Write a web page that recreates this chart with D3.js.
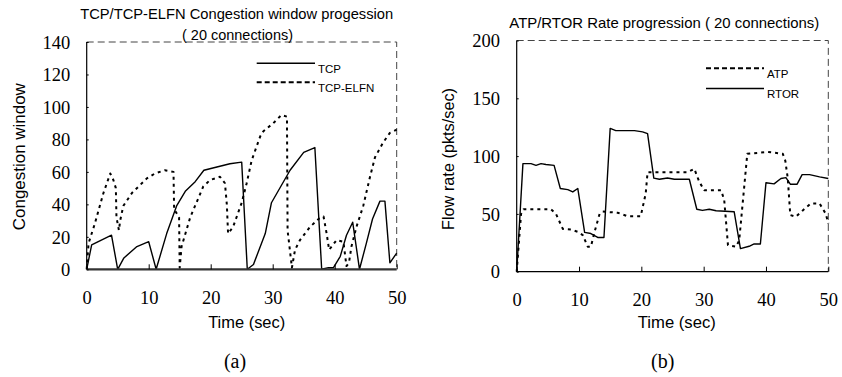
<!DOCTYPE html>
<html>
<head>
<meta charset="utf-8">
<script src="https://cdn.jsdelivr.net/npm/d3@7"></script>
</head>
<body style="margin:0;background:#fff">
<div id="chart"></div>
<script>
// (a) congestion window, 20 connections
const tcpTime = [0, 0.8, 4, 5, 6, 8.1, 10, 11.2, 12.9, 14.5, 15.9, 17.5, 18.9, 21, 23.1, 25, 25.9, 26.9, 28.8, 29.8, 32.8, 35, 36.8, 37.9, 39, 39.8, 40.9, 41.9, 42.9, 44, 45.1, 46.1, 47.3, 48.1, 48.9, 50];
const tcpCwnd = [0, 15, 21, 0, 7, 14, 17, 0, 22, 39, 48, 54, 61, 63, 65, 66, 0, 3, 22, 41, 61, 72, 75, 0, 1, 1, 8, 21, 29, 0, 16, 31, 42, 42, 4, 10];

const elfnTime = [0, 0.3, 1.3, 2.7, 3.8, 4.3, 4.7, 4.8, 5.2, 5.4, 5.9, 7.3, 9.7, 11, 12.6, 14, 14.1, 14.9, 15, 15.3, 16.7, 18.8, 19.9, 21.5, 22.3, 22.6, 22.8, 23.6, 25, 25.8, 26.6, 28, 28.5, 30.1, 31.4, 32.3, 32.4, 33.1, 33.6, 34.4, 36, 37.4, 38.2, 38.7, 39.1, 40.3, 41.4, 41.9, 42.3, 42.7, 43.5, 44.6, 45.7, 46.5, 47.8, 48.9, 50];
const elfnCwnd = [0, 16, 28, 47, 59, 55, 50, 32, 24, 30, 39, 47, 56, 59, 61, 60, 37, 32, 1, 14, 32, 51, 55, 57, 53, 40, 22, 26, 41, 53, 67, 82, 85, 90, 95, 94, 24, 1, 12, 18, 26, 31, 32.5, 22, 12, 18, 17, 2, 4, 14, 26, 39, 57, 69, 78, 84, 86];

// (b) flow rate, 20 connections
const rtorTime = [0, 1, 2.3, 3.1, 3.9, 4.7, 6, 7, 8.2, 9, 9.8, 10.9, 11.9, 13, 14, 15, 15.9, 18.9, 20.2, 21, 22, 22.9, 24.2, 25.3, 27.7, 28.9, 29.8, 30.9, 32, 34.9, 35.9, 37.3, 38.1, 39.1, 40, 41.3, 42.4, 43.2, 43.9, 45, 45.8, 47, 48.6, 50];
const rtorRate = [0, 93.5, 93.5, 92, 93.5, 92.7, 92, 72, 71, 69, 72, 34, 33, 29.6, 29.6, 124, 122, 122, 121, 119.4, 81, 80, 81, 80, 80, 54, 53, 54, 52.7, 51.8, 20, 22, 24, 24, 77, 76, 80.6, 81.4, 75.7, 75.7, 84, 84, 82, 80.6];

const atpTime = [0, 0.7, 1.1, 5.5, 6.3, 7.4, 8.7, 9.8, 10.6, 11.4, 11.9, 12.5, 13.3, 13.8, 16.2, 17.8, 19.9, 20.7, 21, 25.3, 27.4, 28.5, 29.3, 30.1, 32.8, 33.3, 33.9, 35.2, 35.7, 36.5, 37, 40.3, 42.7, 43.1, 43.5, 43.9, 44.8, 45.9, 47.2, 48.6, 49.6, 50];
const atpRate = [0, 50, 54, 54, 50, 37, 36.5, 34.5, 31.7, 21.6, 21.6, 34.5, 50, 52, 51, 48, 48, 67.6, 86, 86, 86, 89, 77.7, 70.5, 70.5, 62, 23, 21.6, 27, 73, 102, 103.6, 102, 96, 80.6, 49, 47.5, 53, 59, 59, 50, 41.7];

const xTicks = [0, 10, 20, 30, 40, 50];
const cwndTicks = [0, 20, 40, 60, 80, 100, 120, 140];
const rateTicks = [0, 50, 100, 150, 200];

const SANS = '"Liberation Sans", Arial, sans-serif';
const SERIF = '"Liberation Serif", "Times New Roman", serif';

const width = 842, height = 377;
const svg = d3.select('#chart').append('svg')
  .attr('width', width).attr('height', height)
  .style('display', 'block');

const dotted = '3,4';

function drawPanel(opt) {
  const x = d3.scaleLinear().domain([0, 50]).range(opt.xr);
  const y = d3.scaleLinear().domain([0, opt.yMax]).range(opt.yr);
  const g = svg.append('g');

  // dashed frame on top and right
  g.append('path')
    .attr('d', `M${opt.xr[0]},${opt.yr[1]}H${opt.xr[1]}V${opt.yr[0]}`)
    .attr('fill', 'none').attr('stroke', '#444').attr('stroke-width', 1)
    .attr('stroke-dasharray', '7,4');

  // series
  const line = d3.line().x(d => x(d[0])).y(d => y(d[1]));
  opt.series.forEach(s => {
    g.append('path')
      .datum(d3.zip(s.t, s.v))
      .attr('d', line)
      .attr('fill', 'none')
      .attr('stroke', '#000')
      .attr('stroke-width', s.dash ? 2 : 1.4)
      .attr('stroke-dasharray', s.dash ? dotted : null)
      .attr('stroke-linejoin', 'round');
  });

  // axes, ticks inside
  const xAxis = g.append('g').attr('transform', `translate(0,${opt.yr[0]})`)
    .call(d3.axisBottom(x).tickValues(xTicks).tickSize(-5));
  const yAxis = g.append('g').attr('transform', `translate(${opt.xr[0]},0)`)
    .call(d3.axisLeft(y).tickValues(opt.yTicks).tickSize(-2).tickPadding(opt.yPad));
  [xAxis, yAxis].forEach(a => {
    a.attr('font-family', null).attr('font-size', null);
    a.select('.domain').attr('stroke', opt.axisColor || '#000').attr('stroke-width', opt.axisWidth || 1.2);
    a.selectAll('.tick line').attr('stroke', '#000').attr('stroke-width', 1);
    a.selectAll('text')
      .style('font-family', SERIF).style('font-size', '18.5px').attr('fill', '#000');
  });
  yAxis.select('.domain').attr('d', `M0,${opt.yr[0]}V${opt.yr[1]}`)
    .attr('stroke', '#000').attr('stroke-width', 1.2);
  xAxis.select('.domain').attr('d', `M${opt.xr[0]},0H${opt.xr[1]}`);
  xAxis.selectAll('text').attr('dy', null).attr('y', 34.5);
  yAxis.selectAll('text').attr('dy', '0.34em');

  // legend
  opt.legend.forEach(l => {
    g.append('line')
      .attr('x1', l.x1).attr('x2', l.x2).attr('y1', l.y).attr('y2', l.y)
      .attr('stroke', '#000').attr('stroke-width', l.dash ? 2 : 1.4)
      .attr('stroke-dasharray', l.dash ? '5,3' : null);
    g.append('text')
      .style('font-family', SANS).style('font-size', '11.5px')
      .attr('x', l.x2 + 3).attr('y', l.y + 9.5)
      .text(l.label);
  });

  // titles
  opt.texts.forEach(t => {
    const el = g.append('text')
      .style('font-family', t.serif ? SERIF : SANS).style('font-size', t.size + 'px')
      .attr('text-anchor', 'middle')
      .text(t.s);
    if (t.w) el.attr('textLength', t.w).attr('lengthAdjust', 'spacingAndGlyphs');
    if (t.rot) {
      el.attr('transform', `translate(${t.x},${t.y}) rotate(-90)`);
    } else {
      el.attr('x', t.x).attr('y', t.y);
    }
  });
}

drawPanel({
  xr: [86.7, 396.7], yr: [269.3, 42], yMax: 140, yTicks: cwndTicks, yPad: 16.5,
  axisWidth: 2.2, axisColor: '#333',
  series: [
    { t: tcpTime, v: tcpCwnd, dash: false },
    { t: elfnTime, v: elfnCwnd, dash: true }
  ],
  legend: [
    { label: 'TCP', x1: 256.7, x2: 315, y: 63.3, dash: false },
    { label: 'TCP-ELFN', x1: 256.7, x2: 315, y: 82.3, dash: true }
  ],
  texts: [
    { s: 'TCP/TCP-ELFN Congestion window progession', x: 236.7, y: 18.5, size: 14.5, w: 313 },
    { s: '( 20 connections)', x: 237.5, y: 39.5, size: 14.5, w: 111 },
    { s: 'Congestion window', x: 25, y: 156.7, size: 17, w: 147, rot: true },
    { s: 'Time (sec)', x: 246.7, y: 328.3, size: 17, w: 77 },
    { s: '(a)', x: 235, y: 368, size: 20, serif: true }
  ]
});

drawPanel({
  xr: [516.7, 828.3], yr: [271.7, 40.5], yMax: 200, yTicks: rateTicks, yPad: 16.7,
  series: [
    { t: atpTime, v: atpRate, dash: true },
    { t: rtorTime, v: rtorRate, dash: false }
  ],
  legend: [
    { label: 'ATP', x1: 706, x2: 764, y: 68.3, dash: true },
    { label: 'RTOR', x1: 706, x2: 764, y: 88.5, dash: false }
  ],
  texts: [
    { s: 'ATP/RTOR Rate progression ( 20 connections)', x: 664.3, y: 28.3, size: 14.5, w: 310 },
    { s: 'Flow rate (pkts/sec)', x: 454.3, y: 159, size: 17, w: 142, rot: true },
    { s: 'Time (sec)', x: 676.8, y: 328.3, size: 17, w: 78 },
    { s: '(b)', x: 662.7, y: 368, size: 20, serif: true }
  ]
});
</script>
</body>
</html>
